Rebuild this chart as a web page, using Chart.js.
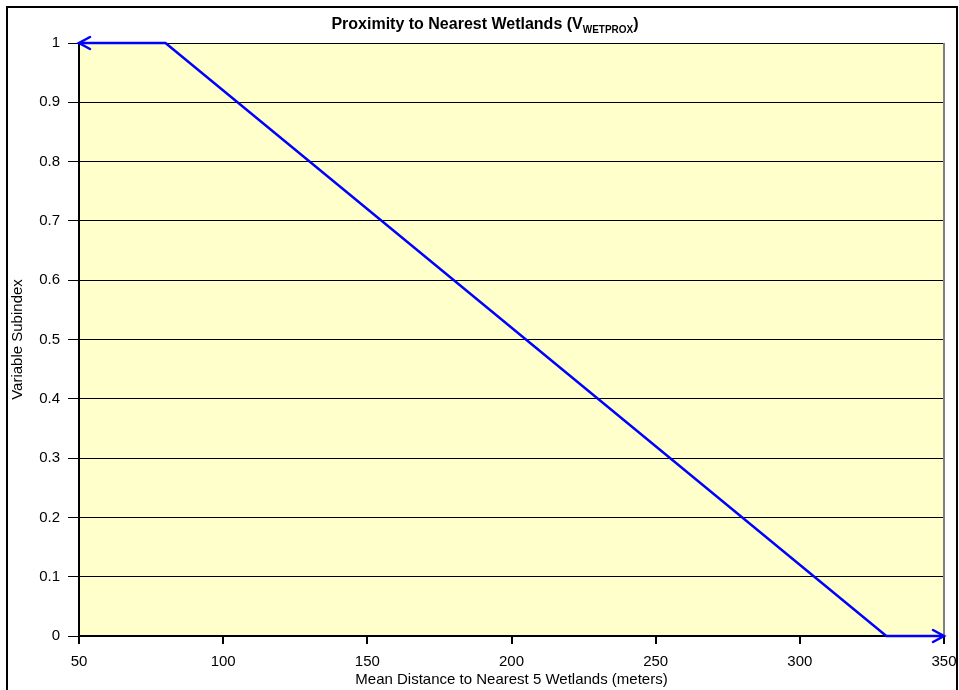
<!DOCTYPE html>
<html>
<head>
<meta charset="utf-8">
<script src="https://cdn.jsdelivr.net/npm/chart.js@4.4.1/dist/chart.umd.min.js"></script>
<style>
  html, body { margin: 0; padding: 0; background: #fff; }
  #wrap { width: 959px; height: 690px; }
</style>
</head>
<body>
<div id="wrap"><canvas id="chart"></canvas></div>
<script>
// curve breakpoints
const distances = [50, 80, 330, 350];
const subindex = [1, 1, 0, 0];
const xTicks = [50, 100, 150, 200, 250, 300, 350];
const yTicks = [0, 0.1, 0.2, 0.3, 0.4, 0.5, 0.6, 0.7, 0.8, 0.9, 1];

const titleMain = "Proximity to Nearest Wetlands (V";
const titleSub = "WETPROX";
const titleEnd = ")";

const FONT = "'Liberation Sans', Arial, sans-serif";

const frame = {
  id: "frame",
  beforeDraw(chart) {
    const { ctx, chartArea: a } = chart;
    ctx.save();
    ctx.fillStyle = "#FFFFCC";
    ctx.fillRect(a.left, a.top, a.right - a.left, a.bottom - a.top);
    ctx.restore();
  },
  afterDraw(chart) {
    const { ctx, chartArea: a } = chart;
    ctx.save();
    // gray right edge of plot
    ctx.strokeStyle = "#808080";
    ctx.lineWidth = 2;
    ctx.beginPath();
    ctx.moveTo(a.right, a.top);
    ctx.lineTo(a.right, a.bottom);
    ctx.stroke();
    // outer border
    ctx.strokeStyle = "#000";
    ctx.lineWidth = 2;
    ctx.strokeRect(7, 7, 950, 700);

    // title with subscript
    ctx.fillStyle = "#000";
    ctx.textBaseline = "alphabetic";
    const big = "bold 16px " + FONT, small = "bold 10px " + FONT;
    ctx.font = big;
    const w1 = ctx.measureText(titleMain).width;
    const w3 = ctx.measureText(titleEnd).width;
    ctx.font = small;
    const w2 = ctx.measureText(titleSub).width;
    let x = 485 - (w1 + w2 + w3) / 2;
    const base = 29;
    ctx.font = big;
    ctx.fillText(titleMain, x, base);
    x += w1;
    ctx.font = small;
    ctx.fillText(titleSub, x, base + 4);
    x += w2;
    ctx.font = big;
    ctx.fillText(titleEnd, x, base);

    // arrow heads at both ends of the curve
    const pts = chart.getDatasetMeta(0).data;
    const first = pts[0], last = pts[pts.length - 1];
    ctx.strokeStyle = "#0000FF";
    ctx.lineWidth = 2.5;
    ctx.lineCap = "round";
    ctx.beginPath();
    ctx.moveTo(first.x + 11, first.y - 6);
    ctx.lineTo(first.x, first.y);
    ctx.lineTo(first.x + 11, first.y + 6);
    ctx.moveTo(last.x - 11, last.y - 6);
    ctx.lineTo(last.x, last.y);
    ctx.lineTo(last.x - 11, last.y + 6);
    ctx.stroke();
    ctx.restore();
  }
};

new Chart(document.getElementById("chart"), {
  type: "scatter",
  data: {
    datasets: [{
      data: distances.map((d, i) => ({ x: d, y: subindex[i] })),
      showLine: true,
      borderColor: "#0000FF",
      borderWidth: 2.5,
      pointRadius: 0,
      tension: 0,
      clip: false
    }]
  },
  options: {
    responsive: true,
    maintainAspectRatio: false,
    animation: false,
    layout: { padding: { top: 43, right: 15, left: 0, bottom: 0 } },
    plugins: {
      legend: { display: false },
      tooltip: { enabled: false }
    },
    scales: {
      x: {
        type: "linear",
        min: 50,
        max: 350,
        afterBuildTicks: (s) => { s.ticks = xTicks.map(v => ({ value: v })); },
        afterFit: (s) => { s.height = 54; s.paddingLeft = 0; s.paddingRight = 0; },
        grid: { drawOnChartArea: false, color: "#000", tickLength: 8, lineWidth: 2 },
        border: { color: "#000", width: 2 },
        ticks: { color: "#000", font: { family: FONT, size: 15 }, padding: 9 },
        title: {
          display: true,
          text: "Mean Distance to Nearest 5 Wetlands (meters)",
          color: "#000",
          font: { family: FONT, size: 15 },
          padding: { top: 1, bottom: 1 }
        }
      },
      y: {
        min: 0,
        max: 1,
        afterBuildTicks: (s) => { s.ticks = yTicks.map(v => ({ value: v })); },
        afterFit: (s) => { s.width = 79; s.paddingTop = 0; s.paddingBottom = 0; },
        grid: { color: "#000", tickLength: 11, lineWidth: 1 },
        border: { color: "#000", width: 2 },
        ticks: {
          color: "#000",
          font: { family: FONT, size: 15 },
          padding: 8,
          callback: (v) => String(+v.toFixed(1))
        },
        title: {
          display: true,
          text: "Variable Subindex",
          color: "#000",
          font: { family: FONT, size: 15 },
          padding: { top: 9, bottom: 9 }
        }
      }
    }
  },
  plugins: [frame]
});
</script>
</body>
</html>
